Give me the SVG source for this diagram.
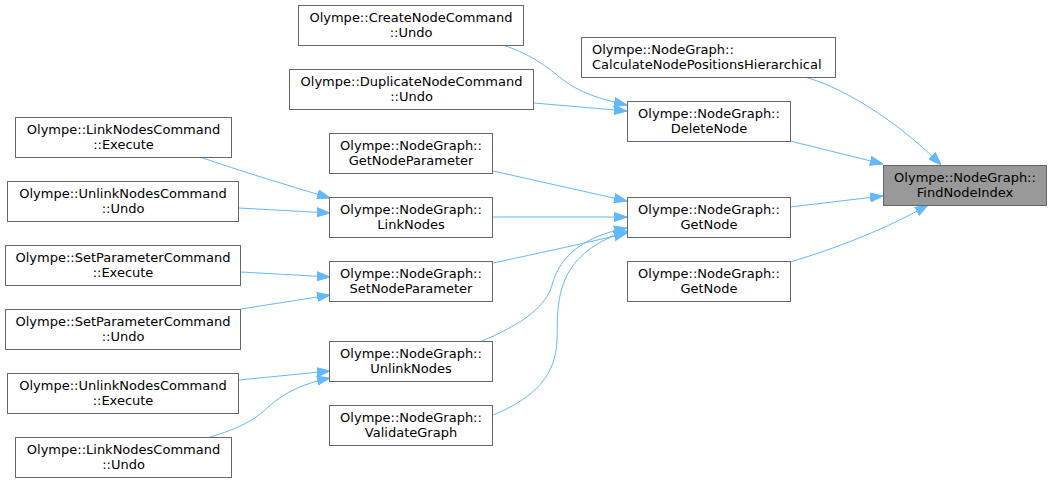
<svg xmlns="http://www.w3.org/2000/svg" width="1052" height="483" viewBox="0 0 1052 483">
<style>
.n rect{fill:#ffffff;stroke:#666666;stroke-width:1}
.n.root rect{fill:#999999}
.n text{font-family:"DejaVu Sans",sans-serif;font-size:13px;fill:#000000;text-anchor:middle}
.n text.l{text-anchor:start}
.e path{fill:none;stroke:#63b8ff;stroke-width:1;marker-end:url(#ah)}
</style>
<defs>
<marker id="ah" markerUnits="userSpaceOnUse" viewBox="0 0 13 10" refX="13" refY="5" markerWidth="13" markerHeight="10" orient="auto">
<path d="M0,0.4 L13,5 L0,9.6 Z" fill="#63b8ff" stroke="#63b8ff" stroke-width="1"/>
</marker>
</defs>
<rect x="0" y="0" width="1052" height="483" fill="#ffffff"/>
<g id="edges" class="e">
<path d="M806.5,77.5 C850,90 905,128 941,165"/>
<path d="M790,141 L883,164"/>
<path d="M790,207 L883,196"/>
<path d="M790,262 C828,251 885,230 928,205"/>
<path d="M503,45 C535,56 548,68 562,79 C580,93 600,99 627,105"/>
<path d="M534,103 L627,111"/>
<path d="M493,171 L627,201"/>
<path d="M493,217 L627,217"/>
<path d="M493,263 C540,253 590,242 627,233"/>
<path d="M482,341 C515,327 545,310 552,285 C560,255 585,236 627,228"/>
<path d="M493,415 C535,398 556,375 557,340 C558,305 552,255 627,231"/>
<path d="M200,157 C240,171 290,186 330,198"/>
<path d="M239,208 L330,213"/>
<path d="M241,272 L330,277"/>
<path d="M241,309 L330,295"/>
<path d="M239,380 L330,371"/>
<path d="M210,437 C240,428 255,420 268,407 C285,392 305,383 330,378"/>
</g>
<g id="n_find" class="n root"><rect x="883.5" y="165.5" width="163" height="40"/><text x="965" y="181.5">Olympe::NodeGraph::</text><text x="965" y="196.5">FindNodeIndex</text></g>
<g id="n_calc" class="n"><rect x="581.5" y="37.5" width="254" height="40"/><text class="l" x="592" y="53.5">Olympe::NodeGraph::</text><text class="l" x="592" y="68.5">CalculateNodePositionsHierarchical</text></g>
<g id="n_delete" class="n"><rect x="627.5" y="101.5" width="163" height="40"/><text x="709" y="117.5">Olympe::NodeGraph::</text><text x="709" y="132.5">DeleteNode</text></g>
<g id="n_getnode1" class="n"><rect x="627.5" y="197.5" width="163" height="40"/><text x="709" y="213.5">Olympe::NodeGraph::</text><text x="709" y="228.5">GetNode</text></g>
<g id="n_getnode2" class="n"><rect x="627.5" y="261.5" width="163" height="40"/><text x="709" y="277.5">Olympe::NodeGraph::</text><text x="709" y="292.5">GetNode</text></g>
<g id="n_create_undo" class="n"><rect x="298.5" y="5.5" width="225" height="40"/><text x="411" y="21.5">Olympe::CreateNodeCommand</text><text x="411" y="36.5">::Undo</text></g>
<g id="n_dup_undo" class="n"><rect x="289.5" y="69.5" width="244" height="40"/><text x="411.5" y="85.5">Olympe::DuplicateNodeCommand</text><text x="411.5" y="100.5">::Undo</text></g>
<g id="n_getparam" class="n"><rect x="329.5" y="133.5" width="163" height="40"/><text x="411" y="149.5">Olympe::NodeGraph::</text><text x="411" y="164.5">GetNodeParameter</text></g>
<g id="n_linknodes" class="n"><rect x="329.5" y="197.5" width="163" height="40"/><text x="411" y="213.5">Olympe::NodeGraph::</text><text x="411" y="228.5">LinkNodes</text></g>
<g id="n_setparam" class="n"><rect x="329.5" y="261.5" width="163" height="40"/><text x="411" y="277.5">Olympe::NodeGraph::</text><text x="411" y="292.5">SetNodeParameter</text></g>
<g id="n_unlinknodes" class="n"><rect x="329.5" y="341.5" width="163" height="40"/><text x="411" y="357.5">Olympe::NodeGraph::</text><text x="411" y="372.5">UnlinkNodes</text></g>
<g id="n_validate" class="n"><rect x="329.5" y="405.5" width="163" height="40"/><text x="411" y="421.5">Olympe::NodeGraph::</text><text x="411" y="436.5">ValidateGraph</text></g>
<g id="n_lnc_exec" class="n"><rect x="15.5" y="117.5" width="216" height="40"/><text x="123.5" y="133.5">Olympe::LinkNodesCommand</text><text x="123.5" y="148.5">::Execute</text></g>
<g id="n_unc_undo" class="n"><rect x="7.5" y="181.5" width="231" height="40"/><text x="123" y="197.5">Olympe::UnlinkNodesCommand</text><text x="123" y="212.5">::Undo</text></g>
<g id="n_spc_exec" class="n"><rect x="5.5" y="245.5" width="235" height="40"/><text x="123" y="261.5">Olympe::SetParameterCommand</text><text x="123" y="276.5">::Execute</text></g>
<g id="n_spc_undo" class="n"><rect x="5.5" y="309.5" width="235" height="40"/><text x="123" y="325.5">Olympe::SetParameterCommand</text><text x="123" y="340.5">::Undo</text></g>
<g id="n_unc_exec" class="n"><rect x="7.5" y="373.5" width="231" height="40"/><text x="123" y="389.5">Olympe::UnlinkNodesCommand</text><text x="123" y="404.5">::Execute</text></g>
<g id="n_lnc_undo" class="n"><rect x="15.5" y="437.5" width="216" height="40"/><text x="123.5" y="453.5">Olympe::LinkNodesCommand</text><text x="123.5" y="468.5">::Undo</text></g>
</svg>
